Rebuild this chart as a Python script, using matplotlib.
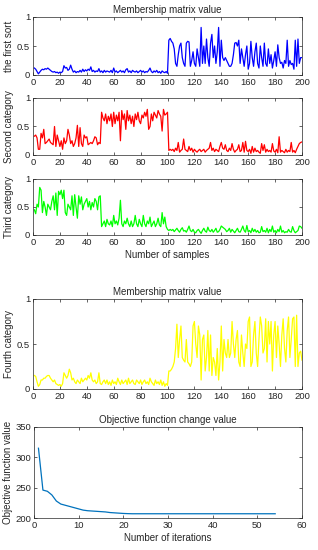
import numpy as np
import matplotlib
matplotlib.use("Agg")
import matplotlib.pyplot as plt

plt.rcParams['font.family'] = ['Liberation Sans', 'DejaVu Sans']
plt.rcParams['font.size'] = 6.8

# membership values, samples 1..200
first_sort = [
    0.12, 0.10, 0.06, 0.02, 0.05, 0.08, 0.10, 0.09, 0.11, 0.10,
    0.12, 0.10, 0.08, 0.06, 0.05, 0.06, 0.04, 0.05, 0.03, 0.05,
    0.04, 0.06, 0.16, 0.12, 0.13, 0.08, 0.10, 0.17, 0.10, 0.05,
    0.07, 0.04, 0.06, 0.05, 0.08, 0.05, 0.10, 0.06, 0.09, 0.07,
    0.10, 0.08, 0.14, 0.06, 0.08, 0.05, 0.07, 0.06, 0.11, 0.05,
    0.07, 0.04, 0.08, 0.05, 0.07, 0.06, 0.05, 0.08, 0.04, 0.12,
    0.05, 0.07, 0.04, 0.06, 0.08, 0.05, 0.07, 0.04, 0.09, 0.11,
    0.05, 0.07, 0.04, 0.08, 0.06, 0.05, 0.07, 0.04, 0.06, 0.08,
    0.05, 0.07, 0.04, 0.06, 0.05, 0.08, 0.12, 0.06, 0.04, 0.07,
    0.05, 0.08, 0.04, 0.06, 0.03, 0.07, 0.05, 0.04, 0.06, 0.03,
    0.60, 0.63, 0.58, 0.55, 0.45, 0.20, 0.15, 0.35, 0.50, 0.55,
    0.30, 0.20, 0.15, 0.55, 0.58, 0.57, 0.15, 0.25, 0.40, 0.20,
    0.15, 0.45, 0.30, 0.15, 0.82, 0.20, 0.50, 0.20, 0.62, 0.30,
    0.15, 0.55, 0.70, 0.30, 0.50, 0.20, 0.40, 0.82, 0.15, 0.60,
    0.30, 0.25, 0.30, 0.25, 0.20, 0.15, 0.15, 0.20, 0.35, 0.55,
    0.56, 0.50, 0.60, 0.20, 0.45, 0.30, 0.15, 0.35, 0.50, 0.10,
    0.20, 0.58, 0.30, 0.15, 0.40, 0.55, 0.20, 0.12, 0.50, 0.30,
    0.15, 0.55, 0.20, 0.15, 0.45, 0.20, 0.35, 0.12, 0.25, 0.40,
    0.15, 0.52, 0.30, 0.20, 0.22, 0.12, 0.25, 0.20, 0.60, 0.15,
    0.25, 0.18, 0.20, 0.10, 0.60, 0.15, 0.62, 0.20, 0.30, 0.30,
]
second_cat = [
    0.33, 0.35, 0.30, 0.10, 0.10, 0.38, 0.30, 0.45, 0.20, 0.22,
    0.25, 0.28, 0.22, 0.20, 0.18, 0.50, 0.15, 0.35, 0.25, 0.15,
    0.25, 0.10, 0.30, 0.20, 0.25, 0.45, 0.35, 0.20, 0.25, 0.15,
    0.20, 0.30, 0.52, 0.15, 0.48, 0.20, 0.15, 0.35, 0.30, 0.32,
    0.18, 0.20, 0.22, 0.20, 0.25, 0.32, 0.30, 0.18, 0.22, 0.20,
    0.75, 0.65, 0.60, 0.72, 0.55, 0.68, 0.60, 0.72, 0.50, 0.75,
    0.55, 0.70, 0.60, 0.75, 0.25, 0.78, 0.62, 0.72, 0.45, 0.78,
    0.60, 0.70, 0.55, 0.68, 0.50, 0.72, 0.62, 0.75, 0.60, 0.55,
    0.70, 0.65, 0.75, 0.68, 0.80, 0.45, 0.50, 0.72, 0.60, 0.75,
    0.70, 0.65, 0.78, 0.72, 0.68, 0.42, 0.80, 0.70, 0.72, 0.75,
    0.08, 0.10, 0.08, 0.10, 0.06, 0.12, 0.08, 0.22, 0.05, 0.08,
    0.10, 0.28, 0.10, 0.08, 0.06, 0.15, 0.08, 0.12, 0.05, 0.10,
    0.07, 0.05, 0.08, 0.10, 0.06, 0.08, 0.10, 0.05, 0.08, 0.10,
    0.12, 0.22, 0.08, 0.12, 0.06, 0.10, 0.08, 0.06, 0.15, 0.22,
    0.12, 0.10, 0.18, 0.08, 0.06, 0.12, 0.08, 0.20, 0.10, 0.05,
    0.08, 0.10, 0.18, 0.06, 0.08, 0.22, 0.05, 0.24, 0.08, 0.06,
    0.10, 0.03, 0.15, 0.05, 0.12, 0.06, 0.08, 0.05, 0.03, 0.20,
    0.08, 0.18, 0.05, 0.10, 0.06, 0.08, 0.05, 0.20, 0.07, 0.05,
    0.10, 0.04, 0.32, 0.05, 0.08, 0.06, 0.04, 0.10, 0.05, 0.08,
    0.06, 0.22, 0.05, 0.08, 0.04, 0.10, 0.15, 0.20, 0.22, 0.23,
]
third_cat = [
    0.45, 0.38, 0.55, 0.50, 0.85, 0.80, 0.40, 0.60, 0.50, 0.35,
    0.55, 0.50, 0.45, 0.60, 0.70, 0.45, 0.75, 0.35, 0.78, 0.72,
    0.80, 0.65, 0.80, 0.40, 0.35, 0.55, 0.50, 0.45, 0.70, 0.35,
    0.72, 0.50, 0.30, 0.70, 0.55, 0.68, 0.45, 0.55, 0.60, 0.65,
    0.50, 0.60, 0.45, 0.58, 0.50, 0.65, 0.60, 0.45, 0.68, 0.70,
    0.15, 0.20, 0.25, 0.15, 0.28, 0.20, 0.18, 0.25, 0.15, 0.35,
    0.20, 0.25, 0.18, 0.30, 0.62, 0.20, 0.15, 0.25, 0.20, 0.30,
    0.20, 0.15, 0.25, 0.15, 0.20, 0.35, 0.20, 0.15, 0.28, 0.20,
    0.15, 0.35, 0.20, 0.15, 0.25, 0.20, 0.32, 0.15, 0.20, 0.25,
    0.15, 0.20, 0.30, 0.18, 0.15, 0.40, 0.20, 0.32, 0.15, 0.10,
    0.08, 0.10, 0.08, 0.10, 0.06, 0.09, 0.12, 0.08, 0.05, 0.10,
    0.13, 0.07, 0.08, 0.05, 0.10, 0.16, 0.08, 0.06, 0.10, 0.05,
    0.04, 0.08, 0.10, 0.06, 0.03, 0.08, 0.12, 0.07, 0.05, 0.14,
    0.08, 0.06, 0.10, 0.05, 0.08, 0.12, 0.05, 0.06, 0.10, 0.16,
    0.14, 0.12, 0.10, 0.06, 0.08, 0.12, 0.05, 0.10, 0.07, 0.04,
    0.08, 0.12, 0.06, 0.05, 0.10, 0.16, 0.08, 0.05, 0.17, 0.06,
    0.08, 0.04, 0.12, 0.06, 0.10, 0.05, 0.08, 0.04, 0.05, 0.15,
    0.06, 0.08, 0.05, 0.12, 0.04, 0.10, 0.06, 0.16, 0.05, 0.08,
    0.04, 0.10, 0.06, 0.16, 0.05, 0.08, 0.04, 0.06, 0.05, 0.10,
    0.06, 0.05, 0.15, 0.08, 0.04, 0.06, 0.08, 0.16, 0.15, 0.12,
]
fourth_cat = [
    0.15, 0.14, 0.08, 0.03, 0.05, 0.10, 0.10, 0.12, 0.12, 0.14,
    0.15, 0.15, 0.12, 0.10, 0.08, 0.10, 0.06, 0.05, 0.04, 0.05,
    0.03, 0.06, 0.18, 0.15, 0.12, 0.15, 0.22, 0.18, 0.10, 0.12,
    0.08, 0.06, 0.10, 0.08, 0.06, 0.12, 0.08, 0.10, 0.12, 0.10,
    0.15, 0.12, 0.18, 0.10, 0.08, 0.10, 0.06, 0.08, 0.18, 0.06,
    0.05, 0.08, 0.10, 0.06, 0.10, 0.05, 0.08, 0.04, 0.10, 0.06,
    0.08, 0.05, 0.12, 0.08, 0.05, 0.10, 0.06, 0.08, 0.10, 0.05,
    0.12, 0.06, 0.08, 0.10, 0.06, 0.05, 0.10, 0.08, 0.06, 0.10,
    0.05, 0.08, 0.10, 0.06, 0.08, 0.05, 0.12, 0.08, 0.06, 0.04,
    0.10, 0.06, 0.08, 0.05, 0.10, 0.04, 0.08, 0.03, 0.06, 0.04,
    0.20, 0.20, 0.22, 0.25, 0.30, 0.45, 0.72, 0.35, 0.55, 0.70,
    0.35, 0.32, 0.30, 0.55, 0.30, 0.28, 0.25, 0.30, 0.70, 0.75,
    0.50, 0.35, 0.70, 0.60, 0.10, 0.55, 0.60, 0.20, 0.35, 0.65,
    0.20, 0.60, 0.15, 0.35, 0.30, 0.15, 0.45, 0.10, 0.30, 0.70,
    0.20, 0.55, 0.40, 0.35, 0.55, 0.35, 0.40, 0.75, 0.50, 0.35,
    0.55, 0.65, 0.30, 0.25, 0.60, 0.40, 0.25, 0.50, 0.45, 0.75,
    0.80, 0.25, 0.30, 0.60, 0.75, 0.40, 0.25, 0.55, 0.80, 0.70,
    0.40, 0.45, 0.78, 0.30, 0.75, 0.50, 0.75, 0.20, 0.60, 0.75,
    0.35, 0.70, 0.50, 0.25, 0.60, 0.78, 0.45, 0.30, 0.65, 0.80,
    0.35, 0.55, 0.78, 0.80, 0.25, 0.82, 0.25, 0.40, 0.42, 0.32,
]

# objective function per iteration (1..54)
objective = [
    315, 246, 244, 238, 228, 223, 221, 219, 217, 215,
    213, 212, 211.5, 211, 210.5, 210, 209, 208.5, 208, 207.5,
    207.2, 207, 207, 207, 207, 207, 207, 207, 207, 207,
    207, 207, 207, 207, 207, 207, 207, 207, 207, 207,
    207, 207, 207, 207, 207, 207, 207, 207, 207, 207,
    207, 207, 207, 207,
]

samples = np.arange(1, len(first_sort) + 1)
iterations = np.arange(1, len(objective) + 1)

edge = '#262626'

def style(ax):
    for s in ax.spines.values():
        s.set_color(edge)
        s.set_linewidth(0.5)
    ax.tick_params(direction='in', top=True, right=True, length=2.5, width=0.5,
                   colors=edge, labelsize=6.8, pad=2)


fig = plt.figure(figsize=(3.18, 5.5), dpi=100)
W, H = 318, 550

def add_ax(left, top, right, bottom):
    return fig.add_axes([left / W, 1 - bottom / H, (right - left) / W, (bottom - top) / H])

panels = [
    (first_sort, 'blue', 'the first sort', 17, 75),
    (second_cat, 'red', 'Second category', 98, 155),
    (third_cat, '#00ff00', 'Third category', 179, 235),
    (fourth_cat, 'yellow', 'Fourth category', 299, 389),
]

for i, (vals, col, lab, top, bot) in enumerate(panels):
    ax = add_ax(33, top, 302, bot)
    ax.plot(samples, vals, color=col, lw=0.9)
    ax.set_xlim(0, 200)
    ax.set_ylim(0, 1)
    ax.set_xticks(range(0, 201, 20))
    ax.set_yticks([0, 0.5, 1])
    ax.set_yticklabels(['0', '0.5', '1'])
    ax.set_ylabel(lab, fontsize=7, labelpad=2, color=edge)
    style(ax)
    if i in (0, 3):
        ax.set_title('Membership matrix value', fontsize=7, pad=3, color=edge)
    if i == 2:
        ax.set_xlabel('Number of samples', fontsize=7, labelpad=2, color=edge)

ax = add_ax(34, 427, 302, 518)
ax.plot(iterations, objective, color='#0072BD', lw=0.9)
ax.set_xlim(0, 60)
ax.set_ylim(200, 350)
ax.set_xticks(range(0, 61, 10))
ax.set_yticks([200, 250, 300, 350])
ax.set_title('Objective function change value', fontsize=7, pad=3, color=edge)
ax.set_xlabel('Number of iterations', fontsize=7, labelpad=2, color=edge)
ax.set_ylabel('Objective function value', fontsize=7, labelpad=2, color=edge)
style(ax)

fig.savefig('out.png', dpi=100)
